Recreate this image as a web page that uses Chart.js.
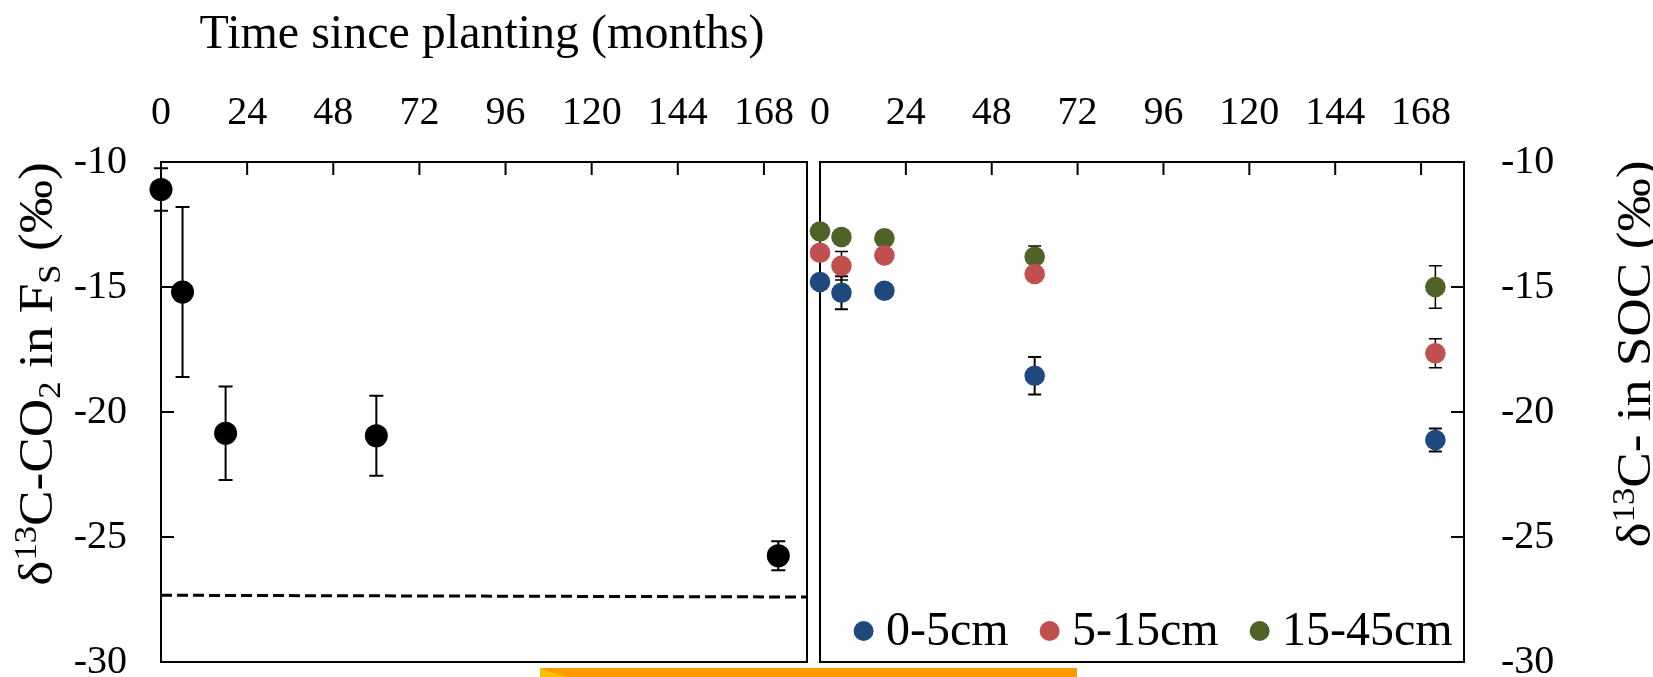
<!DOCTYPE html>
<html>
<head>
<meta charset="utf-8">
<script src="https://cdn.jsdelivr.net/npm/chart.js@4.4.1/dist/chart.umd.min.js"></script>
<style>
  html, body { margin: 0; padding: 0; background: #ffffff; }
  #wrap { position: relative; width: 1653px; height: 677px; overflow: hidden; background: #ffffff; }
  #wrap canvas { position: absolute; left: 0; top: 0; }
</style>
</head>
<body>
<div id="wrap">
  <canvas id="fluxChart" width="1653" height="677"></canvas>
  <canvas id="socChart" width="1653" height="677"></canvas>
</div>
<script>
// ---- Data -------------------------------------------------------------
// Shared time axis (months since planting)
const xTicks = [0, 24, 48, 72, 96, 120, 144, 168];
const yTicks = [-30, -25, -20, -15, -10];

// δ13C of soil CO2 efflux (Fs), mean ± SE
const fluxMonths = [0, 6, 18, 60, 172];
const fluxDelta  = [-11.1, -15.2, -20.85, -20.95, -25.75];
const fluxErr    = [0.85, 3.4, 1.87, 1.6, 0.58];

// Reference line (dashed)
const refMonths = [0, 180];
const refDelta  = [-27.33, -27.4];

// δ13C of soil organic carbon by depth, mean ± SE
const socMonths   = [0, 6, 18, 60, 172];
const soc0to5     = [-14.8, -15.23, -15.15, -18.55, -21.12];
const soc0to5Err  = [0, 0.66, 0, 0.75, 0.46];
const soc5to15    = [-13.63, -14.15, -13.74, -14.48, -17.65];
const soc5to15Err = [0, 0.57, 0, 0, 0.58];
const soc15to45   = [-12.78, -13.0, -13.05, -13.79, -15.0];
const soc15to45Err= [0, 0, 0, 0.43, 0.85];

const depthLabels = ['0-5cm', '5-15cm', '15-45cm'];

// ---- Styling helpers --------------------------------------------------
const SERIF = '"Liberation Serif", "Times New Roman", serif';
Chart.defaults.font.family = SERIF;
Chart.defaults.color = '#000';

const pts = (xs, ys) => xs.map((x, i) => ({ x: x, y: ys[i] }));

// Box frame + inward tick marks + error bars, drawn under the markers
const framePlugin = {
  id: 'frame',
  beforeDatasetsDraw(chart, args, opts) {
    const { ctx, chartArea: a, scales } = chart;
    ctx.save();
    // error bars
    chart.data.datasets.forEach((ds) => {
      if (!ds.errors) return;
      ctx.strokeStyle = '#000';
      ctx.lineWidth = ds.errorWidth || 2;
      const cap = ds.capWidth || 14;
      ds.data.forEach((p, i) => {
        const e = ds.errors[i];
        if (!e) return;
        const x = scales.x.getPixelForValue(p.x);
        const y1 = scales.y.getPixelForValue(p.y + e);
        const y2 = scales.y.getPixelForValue(p.y - e);
        ctx.beginPath();
        ctx.moveTo(x, y1); ctx.lineTo(x, y2);
        ctx.moveTo(x - cap / 2, y1); ctx.lineTo(x + cap / 2, y1);
        ctx.moveTo(x - cap / 2, y2); ctx.lineTo(x + cap / 2, y2);
        ctx.stroke();
      });
    });
    // frame
    ctx.strokeStyle = '#000';
    ctx.lineWidth = 2;
    ctx.strokeRect(a.left, a.top, a.right - a.left, a.bottom - a.top);
    // inward ticks
    const tl = 13;
    ctx.beginPath();
    xTicks.forEach(v => {
      const x = scales.x.getPixelForValue(v);
      if (x <= a.left + 1 || x >= a.right - 1) return;
      ctx.moveTo(x, a.top); ctx.lineTo(x, a.top + tl);
    });
    yTicks.forEach(v => {
      const y = scales.y.getPixelForValue(v);
      if (y <= a.top + 1 || y >= a.bottom - 1) return;
      if (opts.side === 'right') { ctx.moveTo(a.right, y); ctx.lineTo(a.right - tl, y); }
      else { ctx.moveTo(a.left, y); ctx.lineTo(a.left + tl, y); }
    });
    ctx.stroke();
    ctx.restore();
  }
};

// Rotated axis title with super/subscripts (slightly elongated glyphs)
function drawRichVertical(ctx, parts, baseX, centerY, size, stretch) {
  ctx.save();
  ctx.translate(baseX, centerY);
  ctx.rotate(-Math.PI / 2);
  ctx.scale(stretch, 1);
  ctx.fillStyle = '#000';
  ctx.textBaseline = 'alphabetic';
  ctx.textAlign = 'left';
  let total = 0;
  const items = parts.map(p => {
    const fs = p.s ? size * 0.65 : size;
    ctx.font = fs + 'px ' + SERIF;
    const w = ctx.measureText(p.t).width;
    total += w;
    return { t: p.t, fs: fs, w: w, dy: p.s === 'sup' ? -size * 0.34 : (p.s === 'sub' ? size * 0.16 : 0) };
  });
  let x = -total / 2;
  items.forEach(it => {
    ctx.font = it.fs + 'px ' + SERIF;
    ctx.fillText(it.t, x, it.dy);
    x += it.w;
  });
  ctx.restore();
}

const leftDecor = {
  id: 'leftDecor',
  afterDraw(chart) {
    const { ctx } = chart;
    ctx.save();
    ctx.fillStyle = '#000';
    ctx.font = '48px ' + SERIF;
    ctx.textAlign = 'center';
    ctx.textBaseline = 'alphabetic';
    ctx.fillText('Time since planting (months)', 482, 48);
    ctx.restore();
    drawRichVertical(ctx, [
      { t: 'δ' }, { t: '13', s: 'sup' }, { t: 'C-CO' }, { t: '2', s: 'sub' },
      { t: ' in F' }, { t: 'S', s: 'sub' }, { t: ' (‰)' }
    ], 52, 374, 48, 1.11);
    // orange arrow strip along the bottom edge
    ctx.save();
    ctx.fillStyle = '#FF9900';
    ctx.fillRect(540, 668, 537, 9);
    ctx.fillStyle = '#FFC000';
    ctx.beginPath();
    ctx.moveTo(540, 668); ctx.lineTo(566, 677); ctx.lineTo(540, 677);
    ctx.closePath(); ctx.fill();
    ctx.restore();
  }
};

const rightDecor = {
  id: 'rightDecor',
  afterDraw(chart) {
    const { ctx, chartArea: a } = chart;
    drawRichVertical(ctx, [
      { t: 'δ' }, { t: '13', s: 'sup' }, { t: 'C- in SOC (‰)' }
    ], 1650, 354, 48, 1.11);
    // legend inside the plot, bottom-right
    ctx.save();
    ctx.font = '48px ' + SERIF;
    ctx.textBaseline = 'alphabetic';
    ctx.textAlign = 'left';
    let x = a.left + 43.6;
    const yDot = a.bottom - 31;
    const yText = a.bottom - 17;
    chart.data.datasets.forEach(ds => {
      if (!ds.inLegend) return;
      ctx.fillStyle = ds.backgroundColor;
      ctx.beginPath();
      ctx.arc(x, yDot, 10, 0, Math.PI * 2);
      ctx.fill();
      ctx.fillStyle = '#000';
      const tx = x + 22.4;
      ctx.fillText(ds.label, tx, yText);
      x = tx + ctx.measureText(ds.label).width + 41;
    });
    ctx.restore();
  }
};

function xScale(pad) {
  return {
    type: 'linear', position: 'top', min: 0, max: 180,
    afterBuildTicks: s => { s.ticks = xTicks.map(v => ({ value: v })); },
    grid: { display: false, drawTicks: false },
    border: { display: false },
    ticks: { font: { size: 40 }, color: '#000', padding: pad, maxRotation: 0, autoSkip: false },
    afterFit: s => { s.height = 162; s.paddingLeft = 0; s.paddingRight = 0; }
  };
}
function yScale(position, pad, width) {
  return {
    type: 'linear', position: position, min: -30, max: -10,
    afterBuildTicks: s => { s.ticks = yTicks.map(v => ({ value: v })); },
    grid: { display: false, drawTicks: false },
    border: { display: false },
    ticks: { font: { size: 40 }, color: '#000', padding: pad, autoSkip: false },
    afterFit: s => { s.width = width; s.paddingTop = 0; s.paddingBottom = 0; }
  };
}

const common = {
  responsive: false,
  animation: false,
  events: [],
  plugins: { legend: { display: false }, title: { display: false }, tooltip: { enabled: false } }
};

new Chart(document.getElementById('fluxChart'), {
  type: 'scatter',
  data: {
    datasets: [
      {
        label: 'Fs',
        data: pts(fluxMonths, fluxDelta),
        errors: fluxErr, errorWidth: 2, capWidth: 14,
        backgroundColor: '#000', borderWidth: 0,
        pointRadius: 11.5, clip: false
      },
      {
        type: 'line',
        label: 'reference',
        data: pts(refMonths, refDelta),
        borderColor: '#000', borderWidth: 3, borderDash: [11, 5],
        pointRadius: 0, fill: false, showLine: true
      }
    ]
  },
  options: Object.assign({}, common, {
    layout: { padding: { left: 0, top: 0, right: 846, bottom: 15 } },
    scales: { x: xScale(25), y: yScale('left', 34, 161) },
    plugins: Object.assign({}, common.plugins, { frame: { side: 'left' } })
  }),
  plugins: [framePlugin, leftDecor]
});

new Chart(document.getElementById('socChart'), {
  type: 'scatter',
  data: {
    datasets: [
      { label: depthLabels[0], inLegend: true, data: pts(socMonths, soc0to5), errors: soc0to5Err,
        errorWidth: 2, capWidth: 13, backgroundColor: '#1F497D', borderWidth: 0, pointRadius: 10.3, clip: false },
      { label: depthLabels[1], inLegend: true, data: pts(socMonths, soc5to15), errors: soc5to15Err,
        errorWidth: 1.5, capWidth: 13, backgroundColor: '#C0504D', borderWidth: 0, pointRadius: 10.3, clip: false },
      { label: depthLabels[2], inLegend: true, data: pts(socMonths, soc15to45), errors: soc15to45Err,
        errorWidth: 1.5, capWidth: 13, backgroundColor: '#4F6228', borderWidth: 0, pointRadius: 10.3, clip: false }
    ]
  },
  options: Object.assign({}, common, {
    layout: { padding: { left: 820, top: 0, right: 0, bottom: 15 } },
    scales: { x: xScale(25), y: yScale('right', 37, 189) },
    plugins: Object.assign({}, common.plugins, { frame: { side: 'right' } })
  }),
  plugins: [framePlugin, rightDecor]
});
</script>
</body>
</html>
